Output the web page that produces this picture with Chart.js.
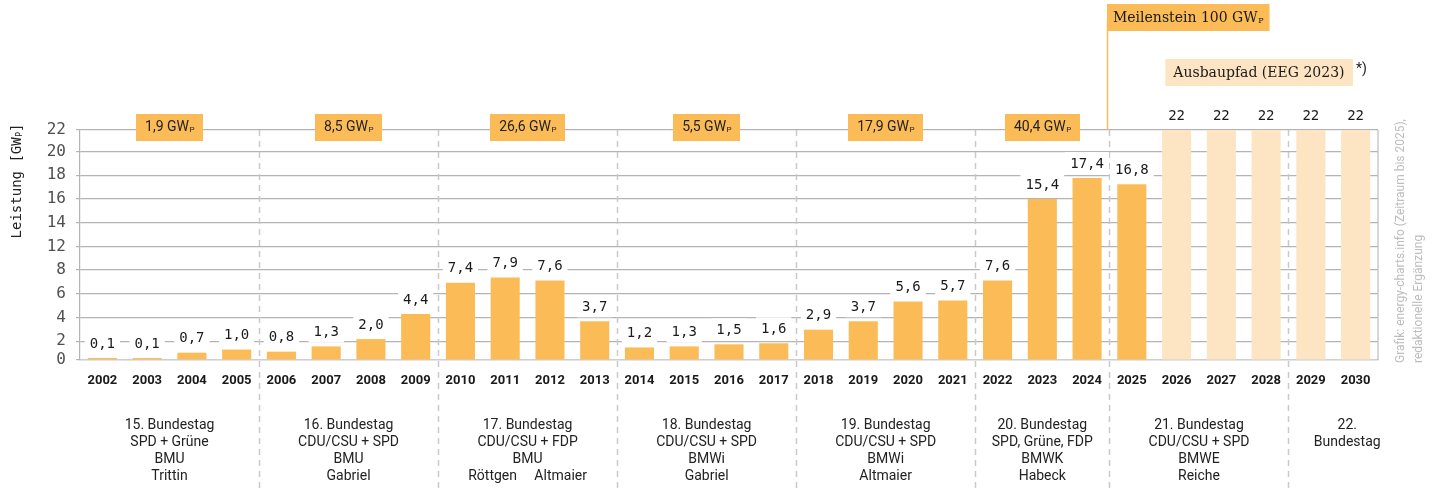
<!DOCTYPE html>
<html lang="de">
<head>
<meta charset="utf-8">
<title>Photovoltaik-Zubau Deutschland</title>
<script src="https://cdn.jsdelivr.net/npm/chart.js@4.4.1/dist/chart.umd.min.js"></script>
<style>
  body { margin: 0; background: #fff; }
  canvas { display: block; }
</style>
</head>
<body>
<canvas id="pvChart" width="1437" height="489"></canvas>
<script>
// ===== DATA =====
const years = [
  "2002", "2003", "2004", "2005", "2006", "2007", "2008", "2009", "2010", "2011",
  "2012", "2013", "2014", "2015", "2016", "2017", "2018", "2019", "2020", "2021",
  "2022", "2023", "2024", "2025", "2026", "2027", "2028", "2029", "2030",
];
// Zubau in GWp
const installed = [
  0.1, 0.1, 0.7, 1.0, 0.8, 1.3, 2.0, 4.4, 7.4, 7.9,
  7.6, 3.7, 1.2, 1.3, 1.5, 1.6, 2.9, 3.7, 5.6, 5.7,
  7.6, 15.4, 17.4, 16.8, null, null, null, null, null,
];
// Ausbaupfad EEG 2023
const target = [
  null, null, null, null, null, null, null, null, null, null,
  null, null, null, null, null, null, null, null, null, null,
  null, null, null, null, 22, 22, 22, 22, 22,
];

// y-Achse: Lage der Gitterlinien und ihre Beschriftung
const gridValues = [0, 1.8, 4.07, 6.33, 8.6, 10.87, 13.13, 15.4, 17.67, 19.93, 22];
const gridLabels = ["0", "2", "4", "6", "8", "12", "14", "16", "18", "20", "22"];

// Legislaturperioden: erster Index jeder Periode
const periodStart = [0, 4, 8, 12, 16, 20, 23, 27];
const periodTotals = ["1,9", "8,5", "26,6", "5,5", "17,9", "40,4"];
const periodLines = [
  ["15. Bundestag", "SPD + Grüne", "BMU", "Trittin"],
  ["16. Bundestag", "CDU/CSU + SPD", "BMU", "Gabriel"],
  ["17. Bundestag", "CDU/CSU + FDP", "BMU", "Röttgen     Altmaier"],
  ["18. Bundestag", "CDU/CSU + SPD", "BMWi", "Gabriel"],
  ["19. Bundestag", "CDU/CSU + SPD", "BMWi", "Altmaier"],
  ["20. Bundestag", "SPD, Grüne, FDP", "BMWK", "Habeck"],
  ["21. Bundestag", "CDU/CSU + SPD", "BMWE", "Reiche"],
  ["22.", "Bundestag"],
];
const milestoneIndex = 23;

// ===== STYLE =====
const ORANGE = "#FBBC58";
const LIGHT = "#FDE4C3";
const SANS = "Roboto, 'Noto Sans', sans-serif";
const MONO = "'DejaVu Sans Mono', monospace";
const SERIF = "'DejaVu Serif', serif";

// Text mit tiefgestelltem "P" (GWp)
function drawSub(ctx, main, sub, x, y, size, family, align, color) {
  ctx.save();
  ctx.fillStyle = color || "#222";
  ctx.textBaseline = "middle";
  ctx.textAlign = "left";
  ctx.font = size + "px " + family;
  const w1 = ctx.measureText(main).width;
  ctx.font = Math.round(size * 0.6) + "px " + family;
  const w2 = ctx.measureText(sub).width;
  const total = w1 + w2;
  let x0 = x;
  if (align === "center") x0 = x - total / 2;
  ctx.font = size + "px " + family;
  ctx.fillText(main, x0, y);
  ctx.font = Math.round(size * 0.6) + "px " + family;
  ctx.fillText(sub, x0 + w1 + 0.5, y + size * 0.18);
  ctx.restore();
  return total;
}

function measureSub(ctx, main, sub, size, family) {
  ctx.save();
  ctx.font = size + "px " + family;
  const w1 = ctx.measureText(main).width;
  ctx.font = Math.round(size * 0.6) + "px " + family;
  const w2 = ctx.measureText(sub).width;
  ctx.restore();
  return w1 + w2 + 0.5;
}

function boundaryX(x, i) {
  return (x.getPixelForValue(i - 1) + x.getPixelForValue(i)) / 2;
}

// ===== PLUGIN: Trennlinien, Rahmen, Beschriftungen =====
const framePlugin = {
  id: "frame",
  beforeDatasetsDraw(chart) {
    const { ctx, chartArea, scales } = chart;
    const x = scales.x;
    ctx.save();
    // rechter Rahmen
    ctx.strokeStyle = "#bdbdbd";
    ctx.lineWidth = 1.2;
    ctx.beginPath();
    ctx.moveTo(chartArea.right, chartArea.top);
    ctx.lineTo(chartArea.right, chartArea.bottom);
    ctx.stroke();
    // gestrichelte Trennlinien zwischen den Perioden
    ctx.strokeStyle = "#c9c9c9";
    ctx.lineWidth = 1.5;
    ctx.setLineDash([6, 5]);
    periodStart.slice(1).forEach((i) => {
      const bx = Math.round(boundaryX(x, i)) + 0.5;
      ctx.beginPath();
      ctx.moveTo(bx, chartArea.top);
      ctx.lineTo(bx, chart.height);
      ctx.stroke();
    });
    ctx.restore();
  },
  afterDatasetsDraw(chart) {
    const { ctx, chartArea, scales } = chart;
    const x = scales.x;

    // Werte über den Balken
    ctx.save();
    ctx.font = "14px " + MONO;
    ctx.textAlign = "center";
    ctx.textBaseline = "middle";
    chart.data.datasets.forEach((ds, di) => {
      const meta = chart.getDatasetMeta(di);
      meta.data.forEach((bar, i) => {
        const v = ds.data[i];
        if (v === null || v === undefined) return;
        const txt = di === 1 ? String(v) : v.toFixed(1).replace(".", ",");
        const cy = bar.y - 15;
        const w = ctx.measureText(txt).width + 10;
        ctx.fillStyle = "#fff";
        ctx.fillRect(bar.x - w / 2, cy - 11, w, 22);
        ctx.fillStyle = "#1a1a1a";
        ctx.fillText(txt, bar.x, cy + 1);
      });
    });
    ctx.restore();

    // Periodengrenzen in Pixeln
    const bounds = periodStart.map((i) => (i === 0 ? chartArea.left : boundaryX(x, i)));
    bounds.push(chartArea.right + 28);

    // Summen je Periode
    periodTotals.forEach((t, p) => {
      const cx = (bounds[p] + bounds[p + 1]) / 2;
      const w = measureSub(ctx, t + " GW", "P", 14, SANS) + 18;
      ctx.fillStyle = ORANGE;
      ctx.fillRect(Math.round(cx - w / 2), chartArea.top - 16, Math.round(w), 27);
      drawSub(ctx, t + " GW", "P", cx, chartArea.top - 2.5, 14, SANS, "center", "#222");
    });

    // Beschriftung der Legislaturperioden
    ctx.save();
    ctx.font = "14px " + SANS;
    ctx.fillStyle = "#222";
    ctx.textAlign = "center";
    ctx.textBaseline = "middle";
    periodLines.forEach((lines, p) => {
      const cx = (bounds[p] + bounds[p + 1]) / 2;
      lines.forEach((line, k) => {
        ctx.fillText(line, cx, chartArea.bottom + 65 + k * 17);
      });
    });
    ctx.restore();

    // Meilenstein 100 GWp
    const mx = Math.round(boundaryX(x, milestoneIndex)) - 2;
    ctx.save();
    ctx.strokeStyle = ORANGE;
    ctx.lineWidth = 1.5;
    ctx.beginPath();
    ctx.moveTo(mx + 0.5, 20);
    ctx.lineTo(mx + 0.5, chartArea.top);
    ctx.stroke();
    const mw = measureSub(ctx, "Meilenstein 100 GW", "P", 14, SERIF) + 12;
    ctx.fillStyle = ORANGE;
    ctx.fillRect(mx, 4, mw, 27);
    drawSub(ctx, "Meilenstein 100 GW", "P", mx + 6, 18, 14, SERIF, "left", "#1a1a1a");

    // Ausbaupfad
    const aw = measureSub(ctx, "Ausbaupfad (EEG 2023)", "", 14, SERIF) + 16;
    const ax = 1353 - aw;
    ctx.fillStyle = LIGHT;
    ctx.fillRect(ax, 59, aw, 27);
    drawSub(ctx, "Ausbaupfad (EEG 2023)", "", ax + 8, 73, 14, SERIF, "left", "#1a1a1a");
    ctx.fillStyle = "#222";
    ctx.font = "14px " + SANS;
    ctx.textAlign = "left";
    ctx.textBaseline = "middle";
    ctx.fillText("*)", 1356, 69);

    // Achsentitel
    ctx.translate(17, 181);
    ctx.rotate(-Math.PI / 2);
    const tw = measureSub(ctx, "Leistung [GW", "P", 14, MONO);
    ctx.font = "14px " + MONO;
    const bw = ctx.measureText("]").width;
    const tx = -(tw + bw) / 2;
    drawSub(ctx, "Leistung [GW", "P", tx, 0, 14, MONO, "left", "#222");
    ctx.font = "14px " + MONO;
    ctx.fillStyle = "#222";
    ctx.textBaseline = "middle";
    ctx.fillText("]", tx + tw, 0);
    ctx.restore();

    // Quelle
    ctx.save();
    ctx.fillStyle = "#bdbdbd";
    ctx.font = "12px " + SANS;
    ctx.textAlign = "left";
    ctx.textBaseline = "middle";
    ctx.translate(1401, 363);
    ctx.rotate(-Math.PI / 2);
    ctx.fillText("Grafik: energy-charts.info (Zeitraum bis 2025),", 0, 0);
    ctx.fillText("redaktionelle Ergänzung", 0, 18);
    ctx.restore();
  },
};

// ===== CHART =====
new Chart(document.getElementById("pvChart"), {
  type: "bar",
  data: {
    labels: years,
    datasets: [
      {
        label: "Zubau",
        data: installed,
        backgroundColor: ORANGE,
        grouped: false,
        barPercentage: 0.65,
        categoryPercentage: 1,
        minBarLength: 2,
      },
      {
        label: "Ausbaupfad",
        data: target,
        backgroundColor: LIGHT,
        grouped: false,
        barPercentage: 0.65,
        categoryPercentage: 1,
      },
    ],
  },
  options: {
    responsive: false,
    animation: false,
    devicePixelRatio: 1,
    layout: { padding: { left: 0, right: 59, top: 130, bottom: 89 } },
    plugins: {
      legend: { display: false },
      tooltip: { enabled: false },
    },
    scales: {
      x: {
        grid: { display: false, drawTicks: false },
        border: { display: true, color: "#cfcfcf", width: 1.2 },
        ticks: {
          padding: 13,
          color: "#1a1a1a",
          font: { family: "Roboto", size: 13, weight: "bold" },
          maxRotation: 0,
          autoSkip: false,
        },
        afterFit(scale) {
          scale.height = 40;
        },
      },
      y: {
        min: 0,
        max: 22,
        grid: { color: "#b4b4b4", lineWidth: 1.2, tickLength: 4 },
        border: { display: true, color: "#b4b4b4", width: 1.2 },
        afterBuildTicks(scale) {
          scale.ticks = gridValues.map((v) => ({ value: v }));
        },
        ticks: {
          padding: 10,
          color: "#505050",
          font: { family: "DejaVu Sans Mono", size: 16 },
          callback: (v, i) => gridLabels[i],
        },
        afterFit(scale) {
          scale.width = 80;
        },
      },
    },
  },
  plugins: [framePlugin],
});
</script>
</body>
</html>
